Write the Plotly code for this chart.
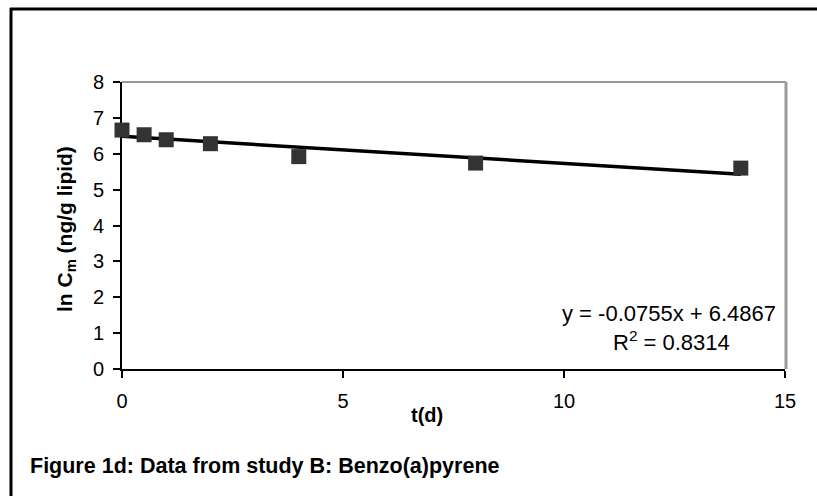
import plotly.graph_objects as go

# Data
t_days = [0, 0.5, 1, 2, 4, 8, 14]
ln_cm = [6.66, 6.53, 6.39, 6.28, 5.92, 5.74, 5.60]
slope = -0.0755
intercept = 6.4867
trend_x = [0, 14]
trend_y = [slope * x + intercept for x in trend_x]
x_ticks = [0, 5, 10, 15]
y_ticks = [0, 1, 2, 3, 4, 5, 6, 7, 8]

W, H = 817, 496
L, R, T, B = 122, 785, 82, 369
pw, ph = R - L, B - T

def px(x):
    return (x - L) / pw

def py(y):
    return (B - y) / ph

FONT = "Arial, Liberation Sans, sans-serif"

fig = go.Figure()
fig.add_trace(go.Scatter(x=trend_x, y=trend_y, mode="lines", cliponaxis=False,
                         line=dict(color="black", width=3.5), showlegend=False))
fig.add_trace(go.Scatter(x=t_days, y=ln_cm, mode="markers", cliponaxis=False,
                         marker=dict(symbol="square", size=15, color="#333333",
                                     line=dict(width=0)), showlegend=False))

fig.update_layout(
    width=W, height=H,
    margin=dict(l=L, r=W - R, t=T, b=H - B),
    paper_bgcolor="white", plot_bgcolor="white",
    font=dict(family=FONT, size=20, color="black"),
    xaxis=dict(range=[0, 15], tickvals=x_ticks, showgrid=False, zeroline=False,
               showline=True, linecolor="black", linewidth=2, layer="below traces",
               ticks="outside", ticklen=7, tickwidth=2, tickcolor="black",
               ticklabelstandoff=6, tickfont=dict(size=20)),
    yaxis=dict(range=[0, 8], tickvals=y_ticks, showgrid=False, zeroline=False,
               showline=True, linecolor="black", linewidth=2, layer="below traces",
               ticks="outside", ticklen=7, tickwidth=2, tickcolor="black",
               ticklabelstandoff=5, tickfont=dict(size=20)),
    shapes=[
        # plot area gray top & right border
        dict(type="line", xref="paper", yref="paper", x0=0, x1=px(R + 1), y0=1, y1=1,
             layer="below", line=dict(color="#999999", width=2)),
        dict(type="line", xref="paper", yref="paper", x0=px(R + 1), x1=px(R + 1), y0=0, y1=1,
             layer="below", line=dict(color="#999999", width=3)),
        # outer frame (left and top edges; right/bottom lie outside the picture)
        dict(type="line", xref="paper", yref="paper",
             x0=px(11), x1=px(11), y0=py(8), y1=py(H + 5),
             line=dict(color="black", width=3)),
        dict(type="line", xref="paper", yref="paper",
             x0=px(10), x1=px(W + 5), y0=py(9), y1=py(9),
             line=dict(color="black", width=3)),
    ],
    annotations=[
        dict(text="y = -0.0755x + 6.4867", xref="paper", yref="paper",
             x=px(669), y=py(313), xanchor="center", yanchor="middle",
             showarrow=False, font=dict(size=22)),
        dict(text="R<sup>2</sup> = 0.8314", xref="paper", yref="paper",
             x=px(671), y=py(341), xanchor="center", yanchor="middle",
             showarrow=False, font=dict(size=22)),
        dict(text="<b>t(d)</b>", xref="paper", yref="paper",
             x=px(427), y=py(415), xanchor="center", yanchor="middle",
             showarrow=False, font=dict(size=20)),
        dict(text="<b>ln C<sub>m</sub> (ng/g lipid)</b>", xref="paper", yref="paper",
             x=px(66), y=py(229), xanchor="center", yanchor="middle", textangle=-90,
             showarrow=False, font=dict(size=21)),
        dict(text="<b>Figure 1d: Data from study B: Benzo(a)pyrene</b>", xref="paper", yref="paper",
             x=px(28), y=py(466), xanchor="left", yanchor="middle",
             showarrow=False, font=dict(size=21.5)),
    ],
)

fig.write_html("out.html")
